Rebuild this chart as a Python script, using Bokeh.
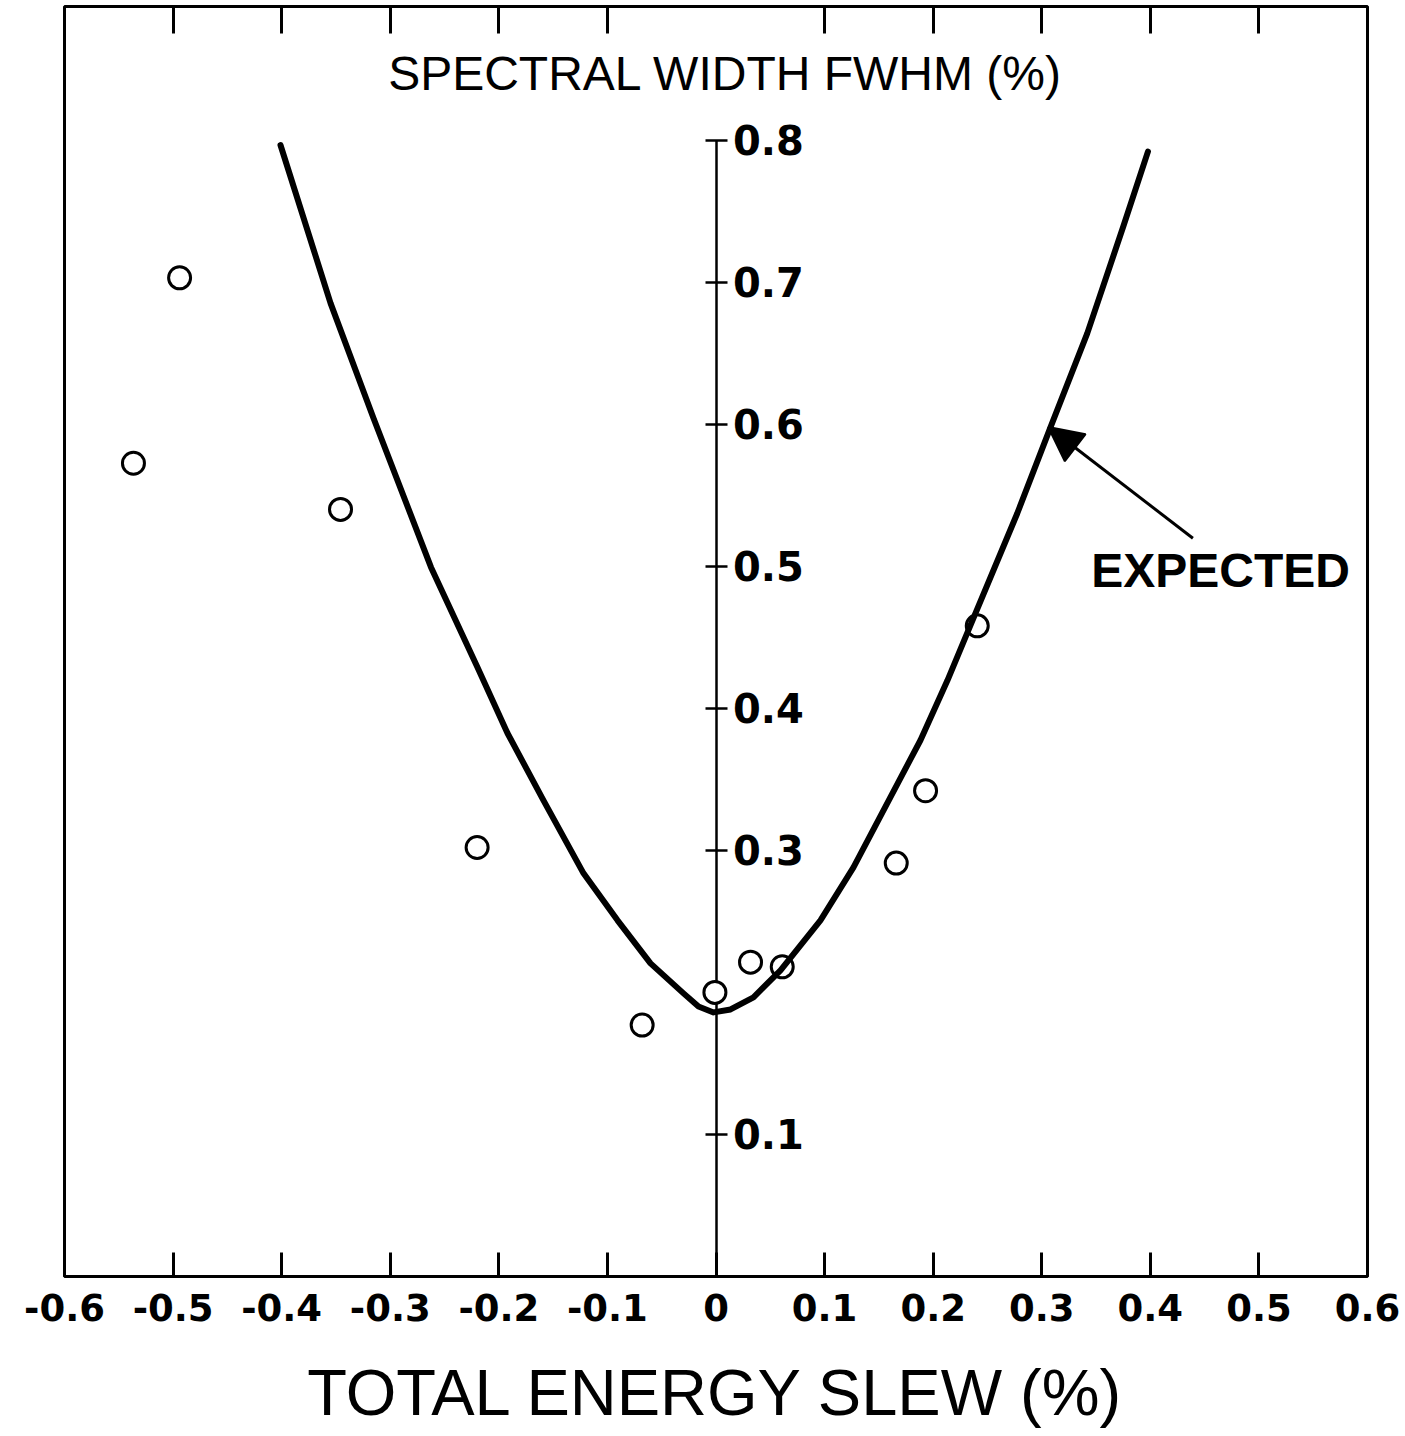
from bokeh.plotting import figure
from bokeh.models import (LinearAxis, FixedTicker, Range1d, Arrow, NormalHead,
                          Label, ColumnDataSource)
from bokeh.embed import file_html
from bokeh.resources import INLINE

# ---- data ----
measured_x = [-0.5365, -0.494, -0.3458, -0.220, -0.068, -0.001, 0.0318, 0.061, 0.166, 0.193, 0.2406]
measured_y = [0.5725, 0.703, 0.540, 0.302, 0.177, 0.200, 0.2213, 0.218, 0.291, 0.342, 0.458]

expected_x = [-0.4011, -0.3550, -0.3154, -0.2625, -0.2197, -0.1920, -0.1589, -0.1220,
              -0.0907, -0.0603, -0.0299, -0.0161, -0.0023, 0.0134, 0.0345, 0.0594,
              0.0962, 0.1266, 0.1883, 0.2132, 0.2344, 0.2774, 0.3081, 0.3419,
              0.3750, 0.3978]
expected_y = [0.7965, 0.6852, 0.6042, 0.4993, 0.4289, 0.3824, 0.3352, 0.2838,
              0.2507, 0.2204, 0.1993, 0.1901, 0.1859, 0.1880, 0.1965, 0.2155,
              0.2507, 0.2880, 0.3775, 0.4197, 0.4585, 0.5371, 0.5979, 0.6639,
              0.7389, 0.7918]

x_ticks = [-0.6, -0.5, -0.4, -0.3, -0.2, -0.1, 0, 0.1, 0.2, 0.3, 0.4, 0.5, 0.6]
x_tick_labels = ["-0.6", "-0.5", "-0.4", "-0.3", "-0.2", "-0.1", "0",
                 "0.1", "0.2", "0.3", "0.4", "0.5", "0.6"]
top_ticks = [-0.5, -0.4, -0.3, -0.2, -0.1, 0.1, 0.2, 0.3, 0.4, 0.5]
y_ticks = [0.1, 0.3, 0.4, 0.5, 0.6, 0.7, 0.8]
y_tick_labels = ["0.1", "0.3", "0.4", "0.5", "0.6", "0.7", "0.8"]

title_text = "SPECTRAL WIDTH FWHM (%)"
x_title = "TOTAL ENERGY SLEW (%)"
curve_label = "EXPECTED"
arrow_tail = (0.4392, 0.5197)
arrow_tip = (0.3060, 0.598)

# ---- figure ----
p = figure(width=1405, height=1436, output_backend="svg", toolbar_location=None,
           x_range=Range1d(-0.6, 0.6), y_range=Range1d(0, 0.894),
           y_axis_location=None, x_axis_location="below",
           min_border_left=64, min_border_right=38, min_border_top=6, min_border_bottom=160)
p.background_fill_color = "white"
p.border_fill_color = "white"
p.grid.visible = False
p.outline_line_color = "black"
p.outline_line_width = 3

# bottom axis
xa = p.xaxis[0]
xa.ticker = FixedTicker(ticks=x_ticks)
xa.major_label_overrides = {t: s for t, s in zip(x_ticks, x_tick_labels)}
xa.minor_tick_line_color = None
xa.major_tick_in = 24
xa.major_tick_out = 0
xa.major_tick_line_width = 3
xa.axis_line_color = None
xa.major_label_standoff = 17
xa.major_label_text_font = "DejaVu Sans"
xa.major_label_text_font_style = "bold"
xa.major_label_text_font_size = "37px"
xa.major_label_text_color = "black"
xa.axis_label = x_title
xa.axis_label_text_font = "Liberation Sans"
xa.axis_label_text_font_style = "normal"
xa.axis_label_text_font_size = "65px"
xa.axis_label_text_color = "black"
xa.axis_label_standoff = 32

# top ticks (no labels)
ta = LinearAxis(fixed_location=0.894, ticker=FixedTicker(ticks=top_ticks))
ta.axis_line_color = None
ta.major_tick_in = 27
ta.major_tick_out = 0
ta.major_tick_line_width = 3
ta.minor_tick_line_color = None
ta.major_label_text_color = None
p.add_layout(ta, "above")

# central vertical axis at x = 0
ca = LinearAxis(fixed_location=0, ticker=FixedTicker(ticks=y_ticks), bounds=(0, 0.8))
ca.major_label_overrides = {t: s for t, s in zip(y_ticks, y_tick_labels)}
ca.axis_line_width = 2.5
ca.major_tick_in = 11
ca.major_tick_out = 11
ca.major_tick_line_width = 2.5
ca.minor_tick_line_color = None
ca.major_label_standoff = 6
ca.major_label_text_font = "DejaVu Sans"
ca.major_label_text_font_style = "bold"
ca.major_label_text_font_size = "40px"
ca.major_label_text_color = "black"
p.add_layout(ca, "right")

# data
pts = ColumnDataSource(dict(x=measured_x, y=measured_y))
r1 = p.scatter("x", "y", source=pts, marker="circle", size=22, fill_color="white",
               line_color="black", line_width=3)
r1.level = "annotation"
cur = ColumnDataSource(dict(x=expected_x, y=expected_y))
r2 = p.line("x", "y", source=cur, line_color="black", line_width=6, line_join="round",
            line_cap="round")
r2.level = "annotation"

# annotations
p.add_layout(Arrow(end=NormalHead(size=34, fill_color="black", line_color="black", line_width=2),
                   x_start=arrow_tail[0], y_start=arrow_tail[1],
                   x_end=arrow_tip[0], y_end=arrow_tip[1],
                   line_color="black", line_width=3))
p.add_layout(Label(x=0.3455, y=0.497, text=curve_label,
                   text_font="Liberation Sans", text_font_style="bold",
                   text_font_size="48px", text_color="black",
                   text_baseline="alphabetic", text_align="left"))
p.add_layout(Label(x=0.0087, y=0.847, text=title_text,
                   text_font="Liberation Sans", text_font_style="normal",
                   text_font_size="48px", text_color="black",
                   text_baseline="alphabetic", text_align="center"))

open("out.html", "w").write(file_html(p, INLINE))
